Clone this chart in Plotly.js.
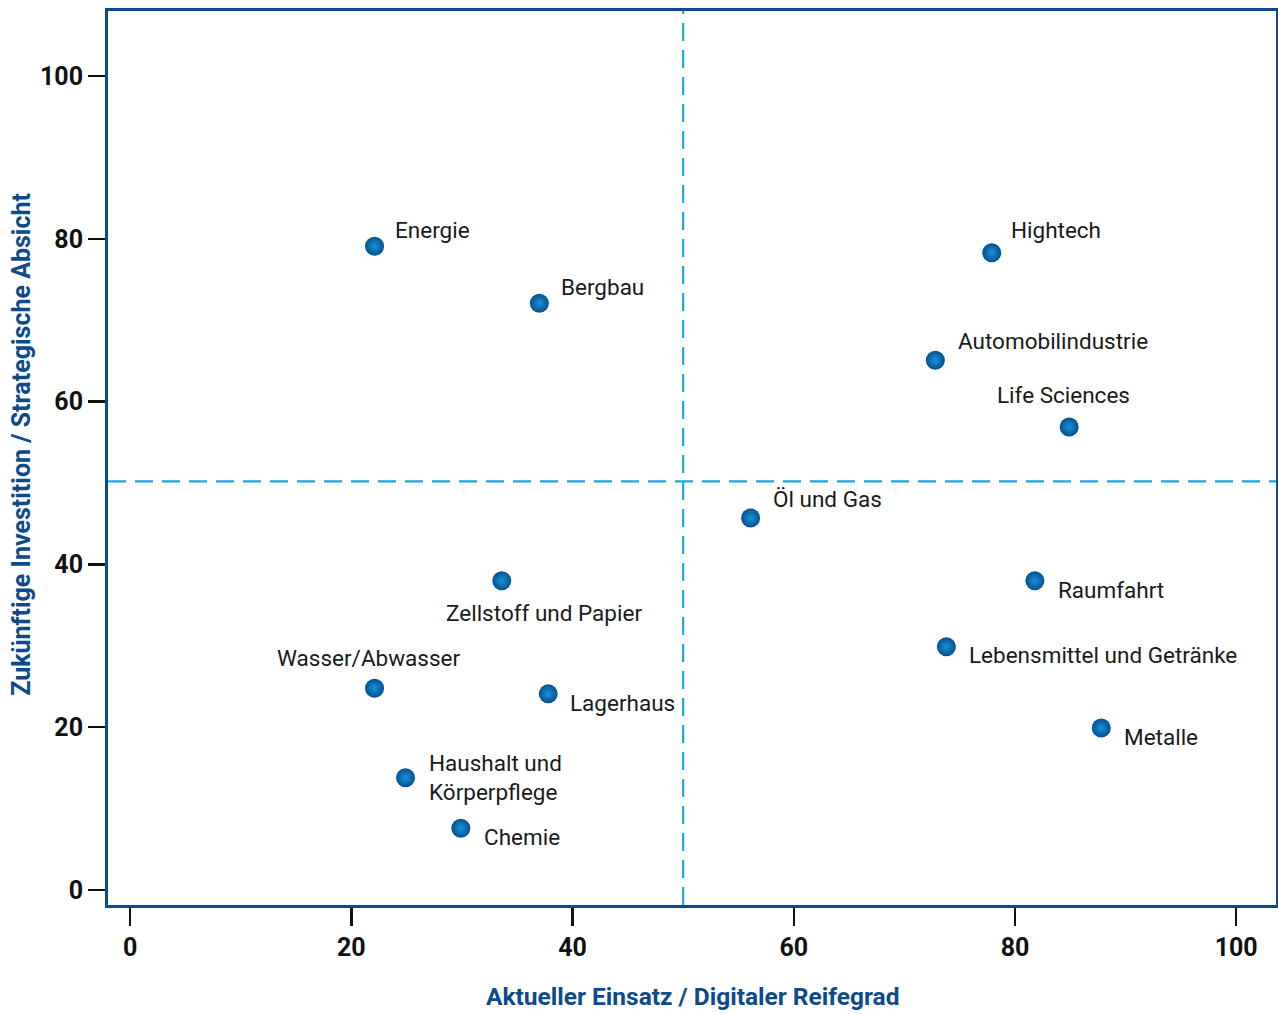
<!DOCTYPE html>
<html>
<head>
<meta charset="utf-8">
<script src="https://cdn.plot.ly/plotly-3.0.1.min.js"></script>
<style>html,body{margin:0;padding:0;background:#fff}#chart{width:1278px;height:1014px}</style>
</head>
<body>
<div id="chart"></div>
<script>
// Data
const sectors = ["Energie","Bergbau","Hightech","Automobilindustrie","Life Sciences","Öl und Gas","Zellstoff und Papier","Raumfahrt","Lebensmittel und Getränke","Wasser/Abwasser","Lagerhaus","Metalle","Haushalt und<br>Körperpflege","Chemie"];
const digitalMaturity = [22.1, 37.0, 77.9, 72.8, 84.9, 56.1, 33.6, 81.8, 73.8, 22.1, 37.8, 87.8, 24.9, 29.9];
const strategicIntent = [79.1, 72.1, 78.3, 65.1, 56.9, 45.7, 38.0, 38.0, 29.9, 24.8, 24.1, 19.9, 13.8, 7.6];
const xTicks = [0, 20, 40, 60, 80, 100];
const yTicks = [0, 20, 40, 60, 80, 100];
const thresholdX = 50;
const thresholdY = 50.2;
const xTitle = "Aktueller Einsatz / Digitaler Reifegrad";
const yTitle = "Zukünftige Investition / Strategische Absicht";

// Label placement (pixel offsets from the point; layout only)
const labelPlacement = [
  {dx:18, dy:16, anchor:"left"},
  {dx:20, dy:16, anchor:"left"},
  {dx:17, dy:23, anchor:"left"},
  {dx:21, dy:19, anchor:"left"},
  {dx:-6, dy:32, anchor:"center"},
  {dx:20, dy:19, anchor:"left"},
  {dx:42, dy:-32, anchor:"center"},
  {dx:21, dy:-9, anchor:"left"},
  {dx:21, dy:-8, anchor:"left"},
  {dx:-6, dy:30, anchor:"center"},
  {dx:20, dy:-9, anchor:"left"},
  {dx:21, dy:-9, anchor:"left"},
  {dx:21, dy:0, anchor:"left"},
  {dx:21, dy:-9, anchor:"left"}
];

const FONT = "Roboto, 'Noto Sans', sans-serif";
const navy = "#0d4a8a";

const annotations = sectors.map((s, i) => ({
  x: digitalMaturity[i], y: strategicIntent[i], xref: "x", yref: "y",
  text: s, showarrow: false,
  xanchor: labelPlacement[i].anchor, yanchor: "middle",
  align: "left",
  xshift: labelPlacement[i].dx, yshift: labelPlacement[i].dy,
  font: {family: FONT, size: 22.5, color: "#1a1a1a"}
}));
annotations.push({
  xref: "paper", yref: "paper", x: 0.5, y: -0.1029, xanchor: "center", yanchor: "middle",
  text: xTitle, showarrow: false,
  font: {family: FONT, size: 24.5, color: navy, weight: "bold"}
});
annotations.push({
  xref: "paper", yref: "paper", x: -0.0738, y: 0.5157, xanchor: "center", yanchor: "middle",
  text: yTitle, showarrow: false, textangle: -90,
  font: {family: FONT, size: 25, color: navy, weight: "bold"}
});

const trace = {
  type: "scatter", mode: "markers",
  x: digitalMaturity, y: strategicIntent,
  marker: {size: 19, color: "#03508f", gradient: {type: "radial", color: "#1a93da"}, line: {width: 0}},
  hoverinfo: "text", text: sectors
};

const layout = {
  width: 1278, height: 1014,
  margin: {l: 108, r: 2, t: 11, b: 109},
  paper_bgcolor: "#fff", plot_bgcolor: "#fff",
  showlegend: false,
  font: {family: FONT, color: "#111"},
  xaxis: {
    range: [-2.0, 103.6], tickvals: xTicks, ticktext: xTicks.map(String),
    showgrid: false, zeroline: false,
    showline: true, mirror: true, linecolor: navy, linewidth: 3,
    ticks: "outside", ticklen: 18, tickwidth: 2.5, tickcolor: "#111",
    tickfont: {family: FONT, size: 25, color: "#111", weight: "bold"}
  },
  yaxis: {
    range: [-1.84, 108.0], tickvals: yTicks, ticktext: yTicks.map(String),
    showgrid: false, zeroline: false,
    showline: true, mirror: true, linecolor: navy, linewidth: 3,
    ticks: "outside", ticklen: 17, tickwidth: 2.5, tickcolor: "#111",
    tickfont: {family: FONT, size: 25, color: "#111", weight: "bold"}
  },
  shapes: [
    {type: "line", xref: "x", yref: "paper", x0: thresholdX, x1: thresholdX, y0: 0, y1: 1,
     line: {color: "#1ea6e0", width: 2.2, dash: "18px,9px"}},
    {type: "line", xref: "paper", yref: "y", x0: 0, x1: 1, y0: thresholdY, y1: thresholdY,
     line: {color: "#1ea6e0", width: 2.2, dash: "18px,9px"}}
  ],
  annotations: annotations
};

Plotly.newPlot("chart", [trace], layout, {displayModeBar: false, staticPlot: true});
</script>
</body>
</html>
